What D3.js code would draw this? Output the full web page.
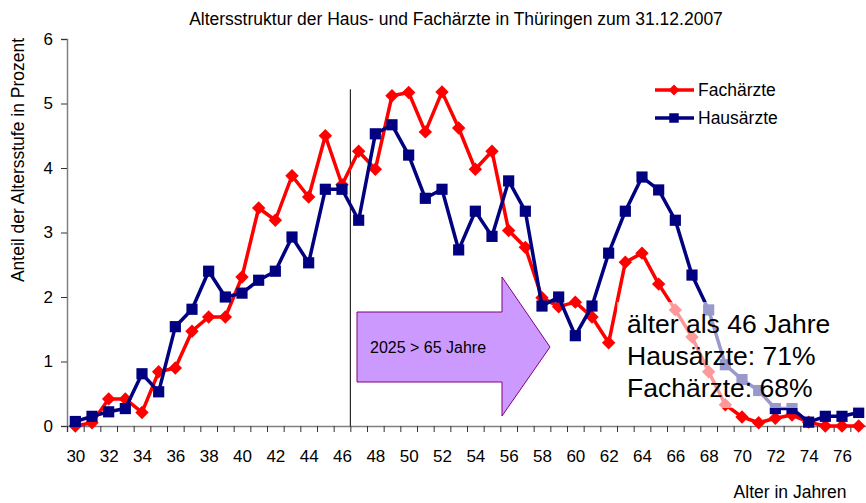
<!DOCTYPE html>
<html>
<head>
<meta charset="utf-8">
<script src="https://cdn.jsdelivr.net/npm/d3@7"></script>
<style>
  body { margin: 0; background: #fff; }
  svg { font-family: "Liberation Sans", Arial, sans-serif; }
</style>
</head>
<body>
<svg id="chart" width="866" height="503"></svg>
<script>
// ages 30..77
const ages = d3.range(30, 78);
const fachaerzte = [
  0.0, 0.05, 0.42, 0.42, 0.21, 0.84, 0.9, 1.47, 1.69, 1.69,
  2.31, 3.38, 3.19, 3.88, 3.55, 4.5, 3.74, 4.26, 3.98, 5.12,
  5.17, 4.56, 5.18, 4.62, 3.98, 4.26, 3.03, 2.77, 1.99, 1.85,
  1.92, 1.69, 1.29, 2.54, 2.68, 2.2, 1.8, 1.38, 0.84, 0.33,
  0.14, 0.05, 0.12, 0.17, 0.06, 0.0, 0.0, 0.0
];
const hausaerzte = [
  0.07, 0.15, 0.22, 0.27, 0.81, 0.53, 1.54, 1.81, 2.4, 2.0,
  2.06, 2.26, 2.4, 2.93, 2.53, 3.67, 3.67, 3.19, 4.53, 4.67,
  4.2, 3.53, 3.67, 2.73, 3.33, 2.94, 3.8, 3.33, 1.86, 2.0,
  1.4, 1.86, 2.68, 3.33, 3.86, 3.66, 3.19, 2.34, 1.8, 0.95,
  0.72, 0.55, 0.27, 0.27, 0.06, 0.15, 0.15, 0.21
];
const yTicks = [0, 1, 2, 3, 4, 5, 6];
const xLabels = d3.range(30, 77, 2);
const seriesNames = ["Fachärzte", "Hausärzte"];
const boxLines = ["älter als 46 Jahre", "Hausärzte: 71%", "Fachärzte: 68%"];

const svg = d3.select("#chart");
const red = "#ff0000", navy = "#000080";

const x = d3.scaleLinear().domain([29.5, 77.5]).range([67, 867]);
const y = d3.scaleLinear().domain([0, 6]).range([426, 39]);

// title
svg.append("text")
  .attr("x", 456).attr("y", 25)
  .attr("text-anchor", "middle")
  .attr("font-size", 17.5)
  .text("Altersstruktur der Haus- und Fachärzte in Thüringen zum 31.12.2007");

// y axis
const yAxis = svg.append("g")
  .attr("transform", `translate(${x.range()[0]},0)`)
  .call(d3.axisLeft(y).tickValues(yTicks).tickSize(6).tickPadding(8).tickFormat(d3.format("d")));
yAxis.select(".domain").attr("stroke", "#808080").attr("stroke-width", 1.5);
yAxis.selectAll(".tick line").attr("stroke", "#333");
yAxis.selectAll(".tick text").attr("font-size", 17).attr("font-family", "Liberation Sans, Arial");

svg.append("text")
  .attr("transform", `translate(24,${(28 + 292) / 2}) rotate(-90)`)
  .attr("text-anchor", "middle")
  .attr("font-size", 17.5)
  .text("Anteil der Altersstufe in Prozent");

// x axis: ticks on category borders
const xAxis = svg.append("g")
  .attr("transform", `translate(0,${y(0)})`)
  .call(d3.axisBottom(x).tickValues(d3.range(29.5, 78, 1)).tickSize(6).tickFormat(""));
xAxis.select(".domain").attr("stroke", "#808080").attr("stroke-width", 1.5);
xAxis.selectAll(".tick line").attr("stroke", "#333");

const xLab = svg.append("g")
  .attr("transform", `translate(0,${y(0)})`)
  .call(d3.axisBottom(x).tickValues(xLabels).tickSize(0).tickPadding(24).tickFormat(d3.format("d")));
xLab.select(".domain").remove();
xLab.selectAll(".tick text").attr("font-size", 17).attr("font-family", "Liberation Sans, Arial");

svg.append("text")
  .attr("x", 790).attr("y", 498)
  .attr("text-anchor", "middle")
  .attr("font-size", 17.5)
  .text("Alter in Jahren");

// vertical marker line between 46 and 47
svg.append("line")
  .attr("x1", x(46.5)).attr("x2", x(46.5))
  .attr("y1", y(5.22)).attr("y2", y(0))
  .attr("stroke", "#000").attr("stroke-width", 1);

// arrow
const ax0 = 357, ax1 = 502, axTip = 550, ayMid = 347;
svg.append("path")
  .attr("d", `M${ax0},312 L${ax1},312 L${ax1},277 L${axTip},${ayMid} L${ax1},416 L${ax1},382 L${ax0},382 Z`)
  .attr("fill", "#cc99ff")
  .attr("stroke", "#800080")
  .attr("stroke-width", 1);
svg.append("text")
  .attr("x", 370).attr("y", 353)
  .attr("font-size", 16)
  .text("2025 > 65 Jahre");

// lines
const line = d3.line().x((d, i) => x(ages[i])).y(d => y(d));
const series = [
  { name: seriesNames[0], values: fachaerzte, color: red, shape: "diamond" },
  { name: seriesNames[1], values: hausaerzte, color: navy, shape: "square" }
];

const diamond = d3.symbol(d3.symbolSquare, 90)();
const square = d3.symbol(d3.symbolSquare, 125)();

series.forEach(s => {
  svg.append("path")
    .datum(s.values)
    .attr("fill", "none")
    .attr("stroke", s.color)
    .attr("stroke-width", 3.5)
    .attr("stroke-linejoin", "round")
    .attr("d", line);
  svg.append("g").selectAll("path")
    .data(s.values)
    .join("path")
    .attr("d", s.shape === "diamond" ? diamond : square)
    .attr("transform", (d, i) => `translate(${x(ages[i])},${y(d)})` + (s.shape === "diamond" ? " rotate(45)" : ""))
    .attr("fill", s.color);
});

// legend
series.forEach((s, i) => {
  const ly = 90 + i * 28;
  svg.append("line")
    .attr("x1", 655).attr("x2", 694).attr("y1", ly).attr("y2", ly)
    .attr("stroke", s.color).attr("stroke-width", 3.5);
  svg.append("path")
    .attr("d", s.shape === "diamond" ? d3.symbol(d3.symbolSquare, 60)() : d3.symbol(d3.symbolSquare, 90)())
    .attr("transform", `translate(674,${ly})` + (s.shape === "diamond" ? " rotate(45)" : ""))
    .attr("fill", s.color);
  svg.append("text")
    .attr("x", 698).attr("y", ly + 6)
    .attr("font-size", 17.5)
    .text(s.name);
});

// annotation box (semi-transparent)
svg.append("rect")
  .attr("x", 617).attr("y", 302).attr("width", 249).attr("height", 106)
  .attr("fill", "#fff").attr("fill-opacity", 0.6);
svg.append("g").selectAll("text")
  .data(boxLines)
  .join("text")
  .attr("x", 627)
  .attr("y", (d, i) => 333 + i * 32)
  .attr("font-size", 26.5)
  .text(d => d);
</script>
</body>
</html>
